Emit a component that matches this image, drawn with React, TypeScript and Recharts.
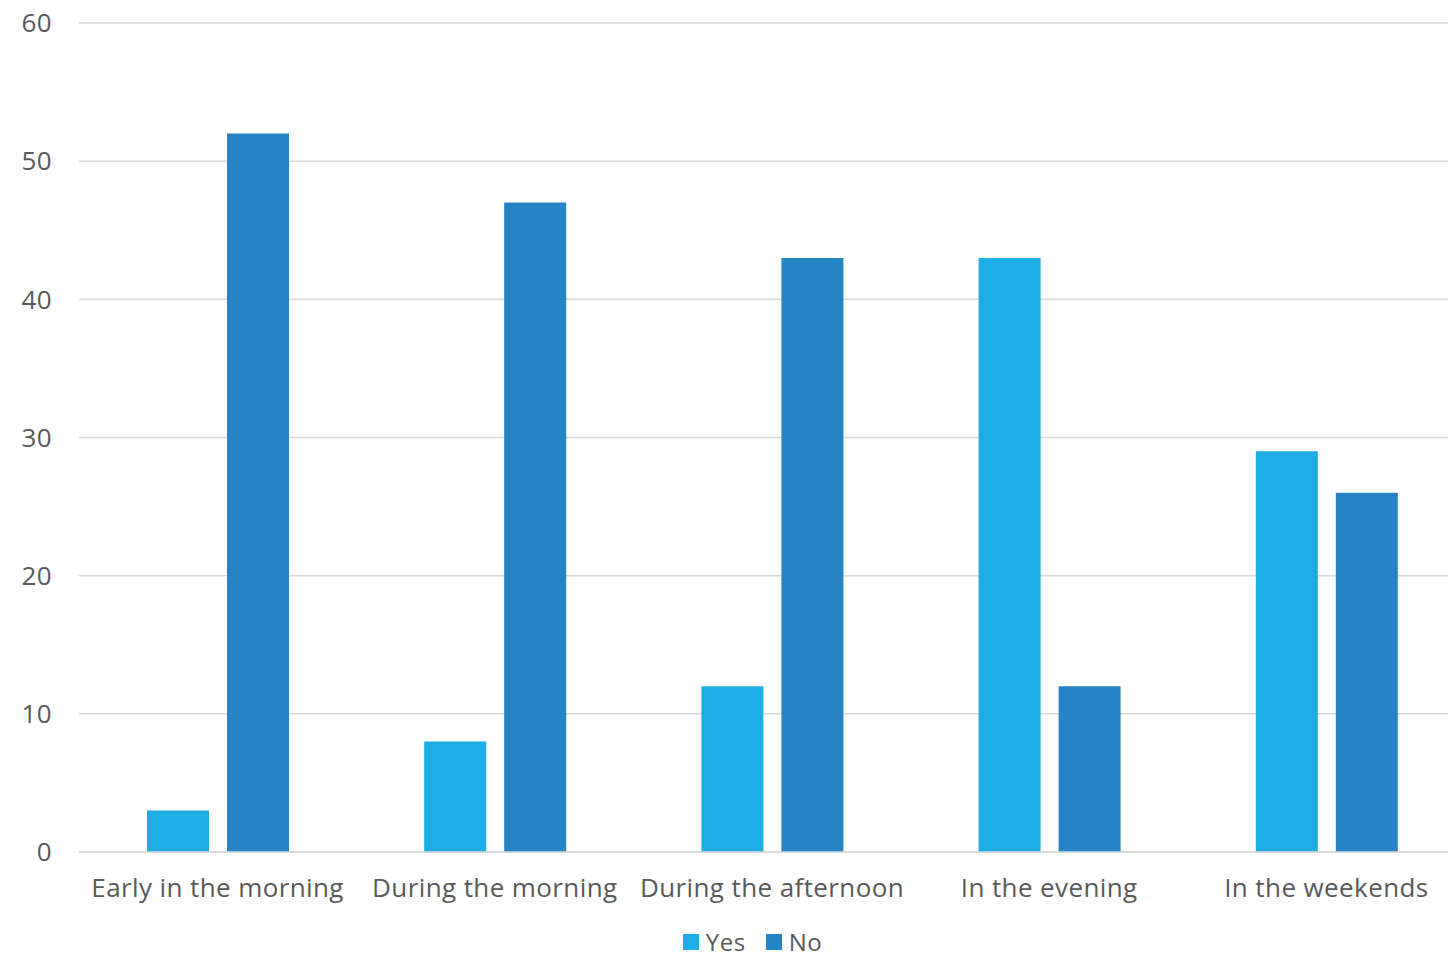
import React from 'react';
import { BarChart, Bar, XAxis, YAxis, CartesianGrid, Legend } from 'recharts';

const categories = ['Early in the morning', 'During the morning', 'During the afternoon', 'In the evening', 'In the weekends'];
const yesValues = [3, 8, 12, 43, 29];
const noValues = [52, 47, 43, 12, 26];
const yTicks = [0, 10, 20, 30, 40, 50, 60];
const seriesNames = ['Yes', 'No'];
const seriesColors = ['#1DACE3', '#2683C6'];

const data = categories.map((name, i) => ({ name, Yes: yesValues[i], No: noValues[i] }));

const textColor = '#595959';
const fontFamily = '"Open Sans", Lato, sans-serif';

// legend drawn by hand so the order stays Yes, No
const LegendContent = () => (
  <div style={{ display: 'flex', justifyContent: 'center', alignItems: 'center', width: 1505, height: 22, marginTop: 15, lineHeight: '22px', fontFamily, fontSize: 24, letterSpacing: 0.5, color: textColor }}>
    {seriesNames.map((s, i) => (
      <div key={s} style={{ display: 'flex', alignItems: 'center', marginRight: i === 0 ? 20 : 0 }}>
        <div style={{ width: 16, height: 16, background: seriesColors[i], marginRight: 7 }} />
        <span style={{ lineHeight: '22px' }}>{s}</span>
      </div>
    ))}
  </div>
);

export default function App() {
  return (
    <div style={{ position: 'absolute', left: 0, top: 0, width: 1448, height: 959, background: '#fff', overflow: 'hidden', fontFamily }}>
      <BarChart
        width={1465}
        height={959}
        data={data}
        margin={{ top: 23, right: 0, bottom: 0, left: 0 }}
        barGap={18}
        barSize={62}
      >
        <CartesianGrid horizontal vertical={false} stroke="#D9D9D9" strokeWidth={1.5} />
        <XAxis
          dataKey="name"
          axisLine={{ stroke: '#D9D9D9', strokeWidth: 1.5 }}
          tickLine={false}
          tick={{ fill: textColor, fontSize: 26, fontFamily, letterSpacing: 0.4 }}
          tickMargin={21}
          height={64}
          interval={0}
        />
        <YAxis
          domain={[0, 60]}
          ticks={yTicks}
          width={79}
          axisLine={false}
          tickLine={false}
          tick={{ fill: textColor, fontSize: 26, fontFamily, letterSpacing: 0.4 }}
          tickMargin={21}
        />
        <Legend
          verticalAlign="bottom"
          height={43}
          wrapperStyle={{ left: 0, bottom: 0 }}
          content={<LegendContent />}
        />
        <Bar dataKey="Yes" fill={seriesColors[0]} isAnimationActive={false} />
        <Bar dataKey="No" fill={seriesColors[1]} isAnimationActive={false} />
      </BarChart>
    </div>
  );
}
